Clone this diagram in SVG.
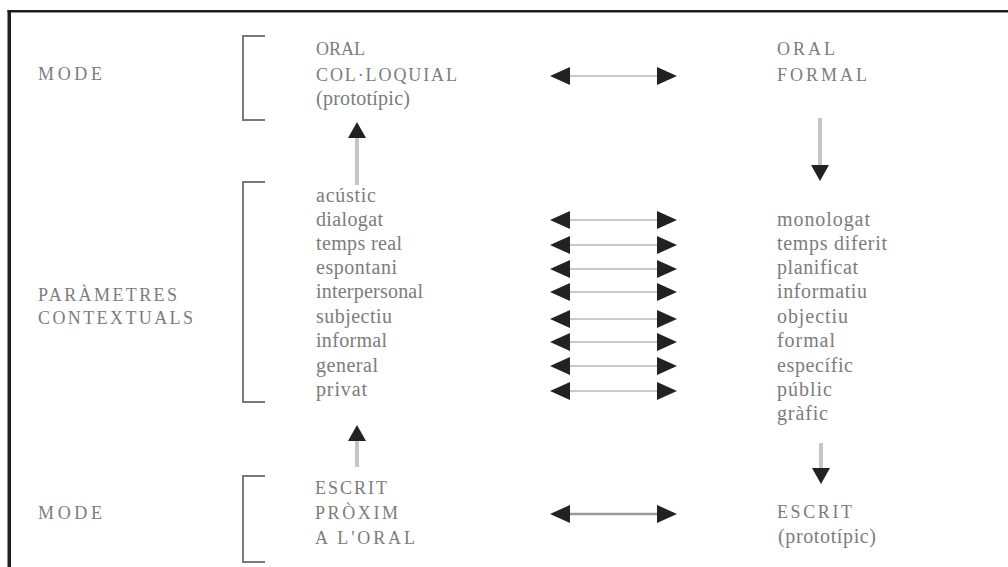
<svg xmlns="http://www.w3.org/2000/svg" width="1008" height="567" viewBox="0 0 1008 567">
<style>
text{font-family:"Liberation Serif","Times New Roman",serif;font-size:20px;fill:#7c7c7c}
text.u{font-size:18px}
.br{fill:none;stroke:#7a7a7a;stroke-width:2}
.h{stroke:#b9b9b9;stroke-width:1.6;fill:none}
.hb{stroke:#999;stroke-width:2.6;fill:none}
.v{stroke:#c6c6c6;stroke-width:4;fill:none}
</style>
<defs>
<marker id="ah" viewBox="0 0 20 18" refX="0" refY="9" markerWidth="20" markerHeight="18" markerUnits="userSpaceOnUse" orient="auto-start-reverse">
<path d="M0,0 L20,9 L0,18 Z" fill="#222"/>
</marker>
<marker id="av" viewBox="0 0 16 18" refX="0" refY="9" markerWidth="16" markerHeight="18" markerUnits="userSpaceOnUse" orient="auto">
<path d="M0,0 L16,9 L0,18 Z" fill="#222"/>
</marker>
</defs>
<rect width="1008" height="567" fill="#fff"/>
<g id="frame">
<line x1="9.25" y1="10" x2="9.25" y2="567" stroke="#1e1e1e" stroke-width="3.5"/>
<line x1="7.5" y1="11.25" x2="1008" y2="11.25" stroke="#1e1e1e" stroke-width="2.5"/>
</g>
<g id="labels">
<text class="u" x="38" y="80" textLength="64">MODE</text>
<text class="u" x="38" y="301" textLength="139">PARÀMETRES</text>
<text class="u" x="38" y="324" textLength="155">CONTEXTUALS</text>
<text class="u" x="38" y="519" textLength="64">MODE</text>
</g>
<g id="brackets">
<path class="br" d="M265,36 H243 V120 H265"/>
<path class="br" d="M265,182 H243 V402 H265"/>
<path class="br" d="M265,476 H243 V562 H265"/>
</g>
<g id="oral-colloquial">
<text class="u" x="316" y="54.5">ORAL</text>
<text class="u" x="316" y="80.5" textLength="141">COL·LOQUIAL</text>
<text x="316" y="105" textLength="94">(prototípic)</text>
</g>
<g id="oral-formal">
<text class="u" x="777" y="54.5" textLength="58">ORAL</text>
<text class="u" x="777" y="80.5" textLength="90">FORMAL</text>
</g>
<g id="params-left">
<text x="316" y="201.5" textLength="60">acústic</text>
<text x="316" y="225.5" textLength="67">dialogat</text>
<text x="316" y="250" textLength="86">temps real</text>
<text x="316" y="274" textLength="81">espontani</text>
<text x="316" y="298" textLength="107">interpersonal</text>
<text x="316" y="322.5" textLength="76">subjectiu</text>
<text x="316" y="347" textLength="71">informal</text>
<text x="316" y="371.5" textLength="62">general</text>
<text x="316" y="396" textLength="51">privat</text>
</g>
<g id="params-right">
<text x="777" y="225.5" textLength="93">monologat</text>
<text x="777" y="250" textLength="110">temps diferit</text>
<text x="777" y="274" textLength="81">planificat</text>
<text x="777" y="298" textLength="90">informatiu</text>
<text x="777" y="322.5" textLength="71">objectiu</text>
<text x="777" y="347" textLength="58">formal</text>
<text x="777" y="371.5" textLength="76">específic</text>
<text x="777" y="396" textLength="55">públic</text>
<text x="777" y="420" textLength="51">gràfic</text>
</g>
<g id="escrit-proxim">
<text class="u" x="315" y="494" textLength="72">ESCRIT</text>
<text class="u" x="315" y="519" textLength="83">PRÒXIM</text>
<text class="u" x="315" y="544" textLength="100">A L'ORAL</text>
</g>
<g id="escrit-prototipic">
<text class="u" x="777" y="518" textLength="75">ESCRIT</text>
<text x="778" y="543" textLength="98">(prototípic)</text>
</g>
<g id="connectors">
<line class="h" x1="570" y1="76" x2="657" y2="76" marker-start="url(#ah)" marker-end="url(#ah)"/>
<line class="h" x1="570" y1="220" x2="657" y2="220" marker-start="url(#ah)" marker-end="url(#ah)"/>
<line class="h" x1="570" y1="245" x2="657" y2="245" marker-start="url(#ah)" marker-end="url(#ah)"/>
<line class="h" x1="570" y1="269" x2="657" y2="269" marker-start="url(#ah)" marker-end="url(#ah)"/>
<line class="h" x1="570" y1="292" x2="657" y2="292" marker-start="url(#ah)" marker-end="url(#ah)"/>
<line class="h" x1="570" y1="319" x2="657" y2="319" marker-start="url(#ah)" marker-end="url(#ah)"/>
<line class="h" x1="570" y1="342" x2="657" y2="342" marker-start="url(#ah)" marker-end="url(#ah)"/>
<line class="h" x1="570" y1="366" x2="657" y2="366" marker-start="url(#ah)" marker-end="url(#ah)"/>
<line class="h" x1="570" y1="391" x2="657" y2="391" marker-start="url(#ah)" marker-end="url(#ah)"/>
<line class="hb" x1="570" y1="514" x2="657" y2="514" marker-start="url(#ah)" marker-end="url(#ah)"/>
<line class="v" x1="357" y1="185" x2="357" y2="138" marker-end="url(#av)"/>
<line class="v" x1="357" y1="467" x2="357" y2="441" marker-end="url(#av)"/>
<line class="v" x1="820" y1="118" x2="820" y2="165" marker-end="url(#av)"/>
<line class="v" x1="821" y1="443" x2="821" y2="468" marker-end="url(#av)"/>
</g>
</svg>
